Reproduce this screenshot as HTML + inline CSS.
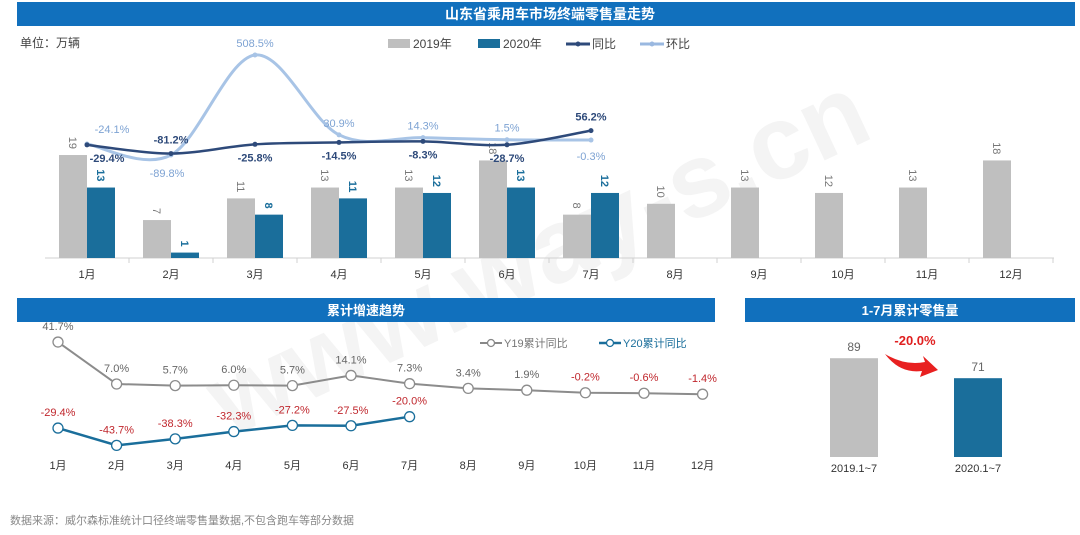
<!DOCTYPE html>
<html><head><meta charset="utf-8">
<style>
html,body{margin:0;background:#fff;overflow:hidden;}
svg{display:block;font-family:"Liberation Sans","Noto Sans CJK SC",sans-serif;}
</style></head>
<body>
<svg id="c" width="1080" height="535" viewBox="0 0 1080 535" xmlns="http://www.w3.org/2000/svg">
<text x="540" y="290" text-anchor="middle" transform="rotate(-25 540 260)" font-size="105" fill="#f4f4f4" font-weight="bold">www.way-s.cn</text>
<rect x="17" y="2" width="1058" height="24" fill="#1170bd"/>
<text x="550" y="19" text-anchor="middle" fill="#fff" font-size="14" font-weight="bold">山东省乘用车市场终端零售量走势</text>
<text x="20" y="47" font-size="12" fill="#444">单位：万辆</text>
<g>
<rect x="388" y="39" width="22" height="9" fill="#bfbfbf"/><text x="413" y="48" font-size="12" fill="#444">2019年</text>
<rect x="478" y="39" width="22" height="9" fill="#1a6e9b"/><text x="503" y="48" font-size="12" fill="#444">2020年</text>
<line x1="566" y1="44" x2="590" y2="44" stroke="#2e4a7a" stroke-width="3"/><circle cx="578" cy="44" r="2.5" fill="#2e4a7a"/><text x="592" y="48" font-size="12" fill="#444">同比</text>
<line x1="640" y1="44" x2="664" y2="44" stroke="#9ab8e0" stroke-width="3"/><circle cx="652" cy="44" r="2.5" fill="#9ab8e0"/><text x="666" y="48" font-size="12" fill="#444">环比</text>
</g>
<g id="topchart"></g>
<rect x="17" y="298" width="698" height="24" fill="#1170bd"/>
<text x="366" y="315" text-anchor="middle" fill="#fff" font-size="13" font-weight="bold">累计增速趋势</text>
<rect x="745" y="298" width="330" height="24" fill="#1170bd"/>
<text x="910" y="315" text-anchor="middle" fill="#fff" font-size="13" font-weight="bold">1-7月累计零售量</text>
<g>
<line x1="480" y1="343" x2="502" y2="343" stroke="#888" stroke-width="2"/><circle cx="491" cy="343" r="3.5" fill="#fff" stroke="#888" stroke-width="1.3"/>
<text x="504" y="347" font-size="11" fill="#777">Y19累计同比</text>
<line x1="599" y1="343" x2="621" y2="343" stroke="#1a6e9b" stroke-width="2.5"/><circle cx="610" cy="343" r="3.5" fill="#fff" stroke="#1a6e9b" stroke-width="1.3"/>
<text x="623" y="347" font-size="11" fill="#1a6e9b">Y20累计同比</text>
</g>
<g id="cum"></g>
<g id="ytd"></g>
<text x="10" y="524" font-size="11" fill="#888">数据来源：威尔森标准统计口径终端零售量数据,不包含跑车等部分数据</text>
</svg>
<script>
const months = ["1月","2月","3月","4月","5月","6月","7月","8月","9月","10月","11月","12月"];
const sales2019 = [19,7,11,13,13,18,8,10,13,12,13,18];
const sales2020 = [13,1,8,11,12,13,12];
const yoy = [-29.4,-81.2,-25.8,-14.5,-8.3,-28.7,56.2];
const mom = [-24.1,-89.8,508.5,30.9,14.3,1.5,-0.3];
const cumMonths = ["1月","2月","3月","4月","5月","6月","7月","8月","9月","10月","11月","12月"];
const y19cum = [41.7,7.0,5.7,6.0,5.7,14.1,7.3,3.4,1.9,-0.2,-0.6,-1.4];
const y20cum = [-29.4,-43.7,-38.3,-32.3,-27.2,-27.5,-20.0];
const ytdLabels = ["2019.1~7","2020.1~7"];
const ytdValues = [89,71];
const ytdChange = "-20.0%";

const NS="http://www.w3.org/2000/svg";
function mk(parent,tag,attrs,text){const e=document.createElementNS(NS,tag);for(const k in attrs)e.setAttribute(k,attrs[k]);if(text!==undefined)e.textContent=text;parent.appendChild(e);return e;}
function smooth(pts){let d="M"+pts[0][0]+","+pts[0][1];const t=0.33;for(let i=0;i<pts.length-1;i++){const p0=pts[i-1]||pts[i],p1=pts[i],p2=pts[i+1],p3=pts[i+2]||p2;
const c1=[p1[0]+(p2[0]-p0[0])*t/2,p1[1]+(p2[1]-p0[1])*t/2],c2=[p2[0]-(p3[0]-p1[0])*t/2,p2[1]-(p3[1]-p1[1])*t/2];d+=` C${c1[0]},${c1[1]} ${c2[0]},${c2[1]} ${p2[0]},${p2[1]}`;}return d;}

// top chart
const tg=document.getElementById('topchart');
const base=258, cx=i=>87+i*84, ys=v=>base-v*5.42, yp=v=>140-v*0.1671;
const ax=mk(tg,'line',{x1:45,y1:base,x2:1054,y2:base,stroke:'#d0d0d0'});


months.forEach((m,i)=>{
  const c=cx(i);
  mk(tg,'line',{x1:c+42,y1:base,x2:c+42,y2:base+5,stroke:'#d0d0d0'});
  const b=mk(tg,'rect',{x:c-28,y:ys(sales2019[i]),width:28,height:sales2019[i]*5.42,fill:'#bfbfbf'});
  
  
  const bl=mk(tg,'text',{x:0,y:0,'font-size':11,fill:'#777',transform:`translate(${c-18},${ys(sales2019[i])-6}) rotate(90)`,'text-anchor':'end'},sales2019[i]);
  
  
  if(i<sales2020.length){
    const b2=mk(tg,'rect',{x:c,y:ys(sales2020[i]),width:28,height:sales2020[i]*5.42,fill:'#1a6e9b'});
    
    
    const l2=mk(tg,'text',{x:0,y:0,'font-size':11,'font-weight':'bold',fill:'#1a6e9b',transform:`translate(${c+10},${ys(sales2020[i])-6}) rotate(90)`,'text-anchor':'end'},sales2020[i]);
    
    
  }
  const ml=mk(tg,'text',{x:c,y:278,'font-size':11,fill:'#333','text-anchor':'middle'},m);
  
  
});
const momPts=mom.map((v,i)=>[cx(i),yp(v)]), yoyPts=yoy.map((v,i)=>[cx(i),yp(v)]);
const lm=mk(tg,'path',{d:smooth(momPts),fill:'none',stroke:'#a8c4e6','stroke-width':3});


const ly=mk(tg,'path',{d:smooth(yoyPts),fill:'none',stroke:'#2e4a7a','stroke-width':2.5});


momPts.forEach((p,i)=>{mk(tg,'circle',{cx:p[0],cy:p[1],r:2.5,fill:'#a8c4e6'});
  const dy=i===1?22:(i===6?20:-8);
  const t=mk(tg,'text',{x:p[0]+(i===0?25:(i===1?-4:0)),y:p[1]+dy+(i===0?-3:0),'font-size':11,fill:'#7ea3d3','text-anchor':'middle'},mom[i].toFixed(1)+'%');
  
  });
yoyPts.forEach((p,i)=>{mk(tg,'circle',{cx:p[0],cy:p[1],r:2.5,fill:'#2e4a7a'});
  const up=(i===1||i===6);
  const t=mk(tg,'text',{x:p[0]+(i===0?20:0),y:up?p[1]-10:p[1]+17,'font-size':11,'font-weight':'bold',fill:'#2e4a7a','text-anchor':'middle'},yoy[i].toFixed(1)+'%');
  
  });

// cumulative chart
const cum=document.getElementById('cum');
const ccx=i=>58+i*58.6, cy=v=>392.5-v*1.21;
function series(vals,color,w,name){
  const pts=vals.map((v,i)=>[ccx(i),cy(v)]);
  const pl=mk(cum,'polyline',{points:pts.map(p=>p.join(',')).join(' '),fill:'none',stroke:color,'stroke-width':w});
  
  
  pts.forEach((p,i)=>{mk(cum,'circle',{cx:p[0],cy:p[1],r:5,fill:'#fff',stroke:color,'stroke-width':1.3});
    const t=mk(cum,'text',{x:p[0],y:p[1]-12,'font-size':11,fill:vals[i]<0?'#c0272d':'#666','text-anchor':'middle'},vals[i].toFixed(1)+'%');
    
    });
}
series(y19cum,'#8c8c8c',2,'y19');
series(y20cum,'#1a6e9b',2.5,'y20');
cumMonths.forEach((m,i)=>{const t=mk(cum,'text',{x:ccx(i),y:469,'font-size':11,fill:'#333','text-anchor':'middle'},m);
  
  });

// ytd chart
const ytd=document.getElementById('ytd');
const ybase=457, yh=v=>v*1.11, ycol=['#bfbfbf','#1a6e9b'];
ytdValues.forEach((v,i)=>{const c=854+i*124;
  const r=mk(ytd,'rect',{x:c-24,y:ybase-yh(v),width:48,height:yh(v),fill:ycol[i]});
  
  
  const t=mk(ytd,'text',{x:c,y:ybase-yh(v)-7,'font-size':12,fill:'#666','text-anchor':'middle'},v);
  
  
  const l=mk(ytd,'text',{x:c,y:472,'font-size':11,fill:'#333','text-anchor':'middle'},ytdLabels[i]);
  
  });
const ch=mk(ytd,'text',{x:915,y:345,'font-size':13,'font-weight':'bold',fill:'#e02020','text-anchor':'middle'},ytdChange);


const ar=mk(ytd,'path',{d:'M885,354 Q905,366 925,362 L923,356 L938,370 L920,377 L922,371 Q900,374 885,354 Z',fill:'#e82020'});


</script>
</body></html>
